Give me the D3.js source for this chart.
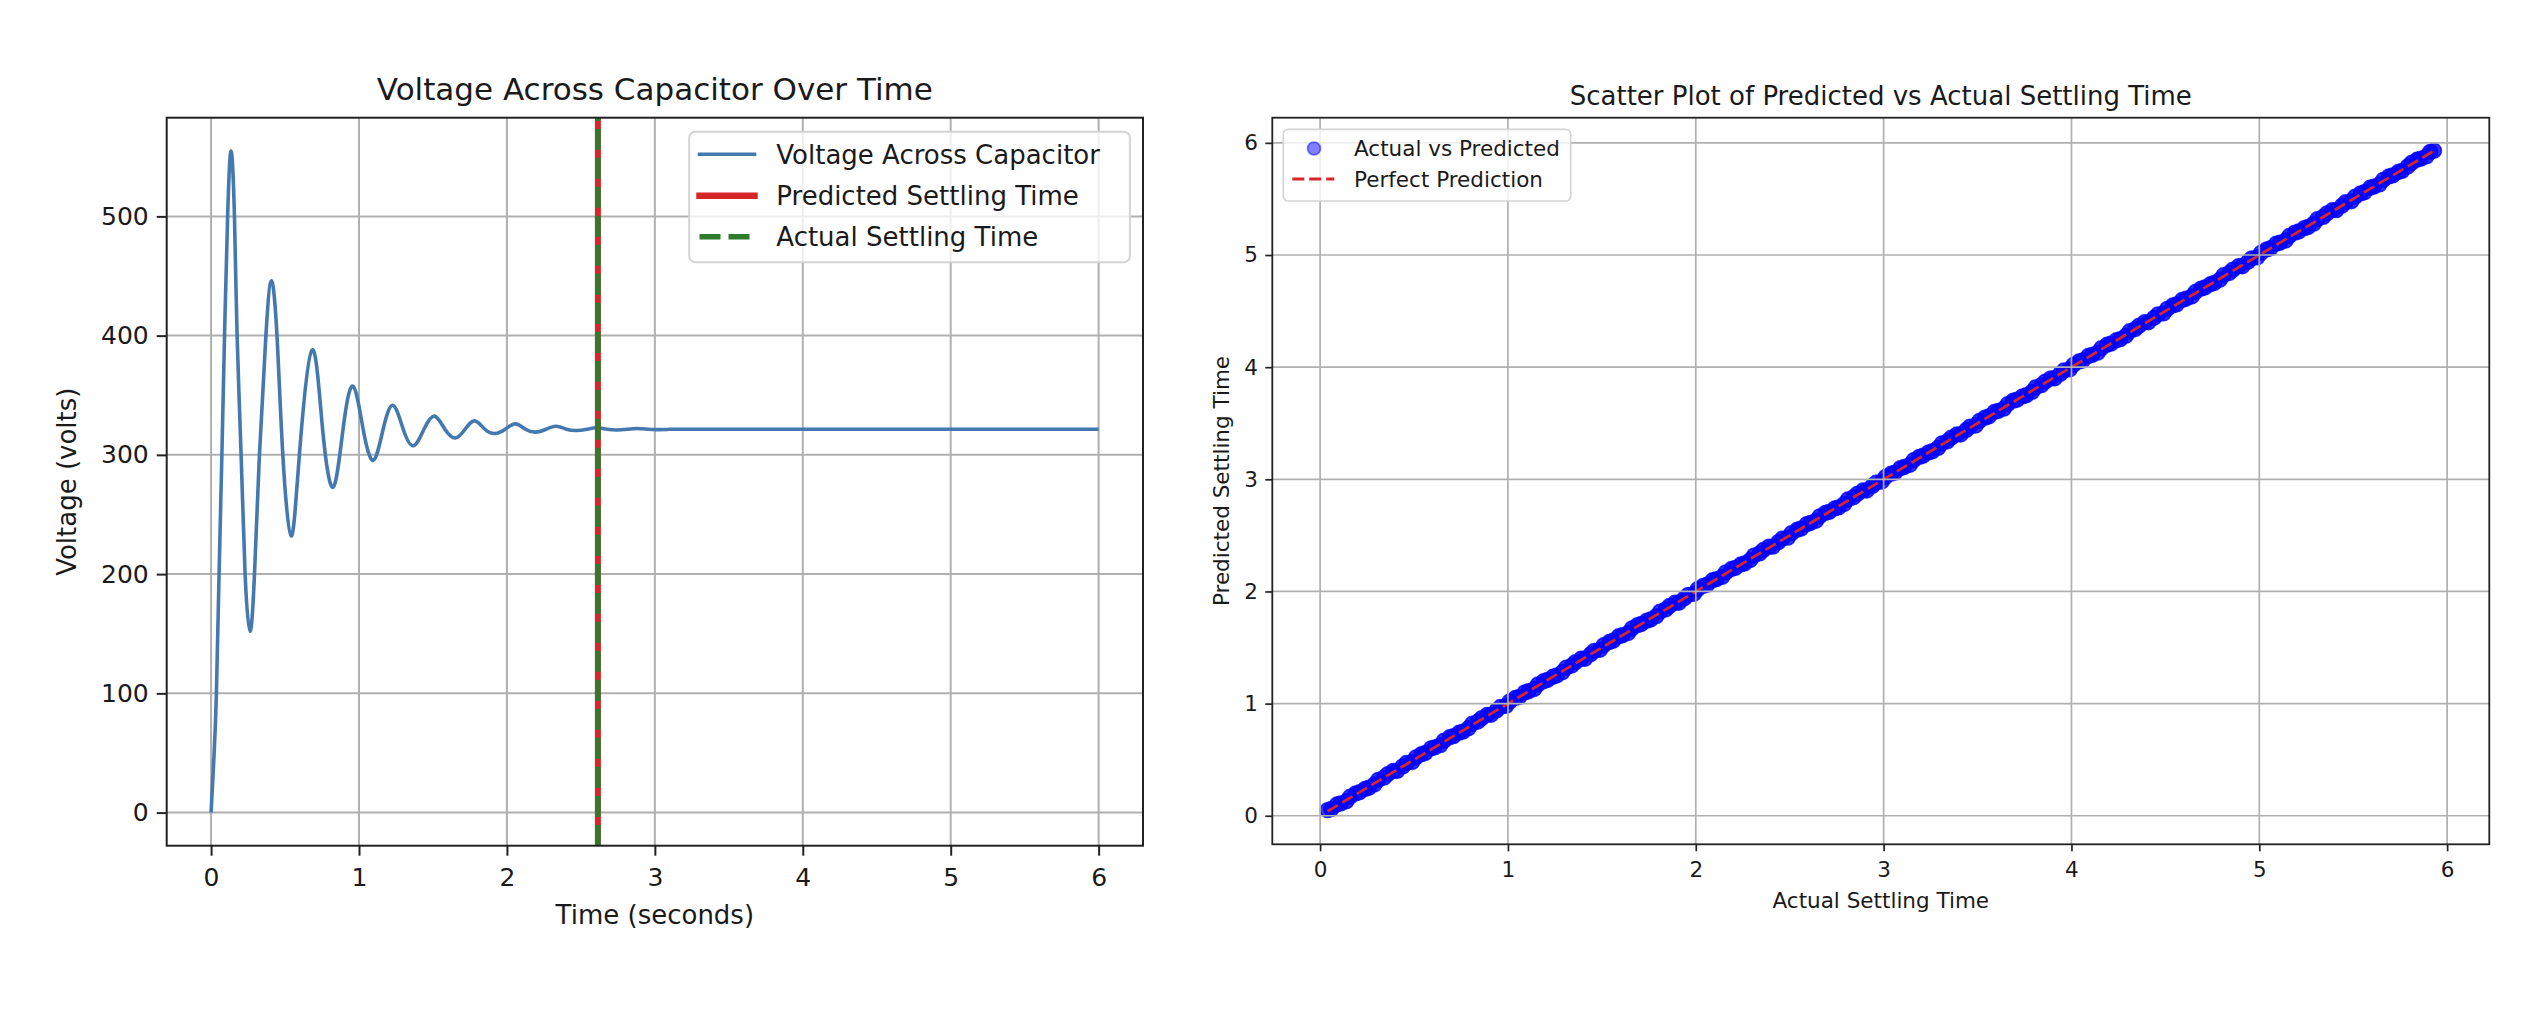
<!DOCTYPE html>
<html><head><meta charset="utf-8">
<script src="https://cdn.jsdelivr.net/npm/d3@7"></script>
<style>
body{margin:0;background:#fff}
svg{display:block}
text{font-family:"DejaVu Sans",sans-serif;fill:#1a1a1a}
</style></head>
<body><svg id="c" width="2547" height="1011"></svg>
<script>
// ---------- data: left chart ----------
const timeSec = [0,0.02,0.036,0.054,0.073,0.091,0.112,0.135,0.158,0.176,0.203,0.230,0.263,
  0.293,0.327,0.370,0.408,0.446,0.485,0.541,0.597,0.683,0.754,0.826,0.892,0.959,1.028,
  1.097,1.163,1.230,1.299,1.368,1.439,1.510,1.581,1.652,1.717,1.782,1.851,1.919,1.988,
  2.057,2.126,2.195,2.264,2.333,2.403,2.471,2.540,2.608,2.677,2.746,2.813,2.883,2.953,
  3.023,3.093,3.3,4.5,6.0];
const voltage = [0,48,100,200,300,400,500,555,500,400,300,200,152,
  199,300,399,446,399,300,232,300,388,321.5,273,321.5,357.7,321.5,
  295.5,321.5,341.5,321.5,307.7,321.5,332.5,321.5,314.2,321.5,328.5,321.5,317.9,321.5,
  326,321.5,319.1,321.5,324,321.5,320.4,321.5,322.7,321.5,320.9,321.5,322.1,321.5,
  321.2,321.5,321.5,321.5,321.5];
const predictedSettlingTime = 2.615;
const actualSettlingTime = 2.615;
const timeTicks = [0,1,2,3,4,5,6];
const voltTicks = [0,100,200,300,400,500];
const leftLegendLabels = ["Voltage Across Capacitor","Predicted Settling Time","Actual Settling Time"];

// ---------- data: right chart ----------
const actualSettling = [
0.04,0.06,0.09,0.11,0.14,0.16,0.19,0.21,0.24,0.26,
0.29,0.31,0.34,0.36,0.39,0.41,0.44,0.46,0.49,0.51,
0.54,0.56,0.59,0.61,0.64,0.66,0.69,0.71,0.74,0.76,
0.79,0.81,0.84,0.86,0.89,0.91,0.94,0.96,0.99,1.01,
1.04,1.06,1.09,1.11,1.14,1.16,1.19,1.21,1.24,1.26,
1.29,1.31,1.34,1.36,1.39,1.41,1.44,1.46,1.49,1.51,
1.54,1.56,1.59,1.61,1.64,1.66,1.69,1.71,1.74,1.76,
1.79,1.81,1.84,1.86,1.89,1.91,1.94,1.96,1.99,2.01,
2.04,2.06,2.09,2.11,2.14,2.16,2.19,2.21,2.24,2.26,
2.29,2.31,2.34,2.36,2.39,2.41,2.44,2.46,2.49,2.51,
2.54,2.56,2.59,2.61,2.64,2.66,2.69,2.71,2.74,2.76,
2.79,2.81,2.84,2.86,2.89,2.91,2.94,2.96,2.99,3.01,
3.04,3.06,3.09,3.11,3.14,3.16,3.19,3.21,3.24,3.26,
3.29,3.31,3.34,3.36,3.39,3.41,3.44,3.46,3.49,3.51,
3.54,3.56,3.59,3.61,3.64,3.66,3.69,3.71,3.74,3.76,
3.79,3.81,3.84,3.86,3.89,3.91,3.94,3.96,3.99,4.01,
4.04,4.06,4.09,4.11,4.14,4.16,4.19,4.21,4.24,4.26,
4.29,4.31,4.34,4.36,4.39,4.41,4.44,4.46,4.49,4.51,
4.54,4.56,4.59,4.61,4.64,4.66,4.69,4.71,4.74,4.76,
4.79,4.81,4.84,4.86,4.89,4.91,4.94,4.96,4.99,5.01,
5.04,5.06,5.09,5.11,5.14,5.16,5.19,5.21,5.24,5.26,
5.29,5.31,5.34,5.36,5.39,5.41,5.44,5.46,5.49,5.51,
5.54,5.56,5.59,5.61,5.64,5.66,5.69,5.71,5.74,5.76,
5.79,5.81,5.84,5.86,5.89,5.91,5.93];
const predictedSettling = [
0.05,0.06,0.10,0.11,0.13,0.17,0.20,0.21,0.24,0.25,
0.28,0.32,0.34,0.37,0.40,0.40,0.44,0.47,0.48,0.52,
0.55,0.56,0.60,0.61,0.63,0.67,0.70,0.71,0.74,0.75,
0.78,0.82,0.84,0.87,0.90,0.90,0.94,0.97,0.98,1.02,
1.05,1.06,1.10,1.11,1.13,1.17,1.20,1.21,1.24,1.25,
1.28,1.32,1.34,1.37,1.40,1.40,1.44,1.47,1.48,1.52,
1.55,1.56,1.60,1.61,1.63,1.67,1.70,1.71,1.74,1.75,
1.78,1.82,1.84,1.87,1.90,1.90,1.94,1.97,1.98,2.02,
2.05,2.06,2.10,2.11,2.13,2.17,2.20,2.21,2.24,2.25,
2.28,2.32,2.34,2.37,2.40,2.40,2.44,2.47,2.48,2.52,
2.55,2.56,2.60,2.61,2.63,2.67,2.70,2.71,2.74,2.75,
2.78,2.82,2.84,2.87,2.90,2.90,2.94,2.97,2.98,3.02,
3.05,3.06,3.10,3.11,3.13,3.17,3.20,3.21,3.24,3.25,
3.28,3.32,3.34,3.37,3.40,3.40,3.44,3.47,3.48,3.52,
3.55,3.56,3.60,3.61,3.63,3.67,3.70,3.71,3.74,3.75,
3.78,3.82,3.84,3.87,3.90,3.90,3.94,3.97,3.98,4.02,
4.05,4.06,4.10,4.11,4.13,4.17,4.20,4.21,4.24,4.25,
4.28,4.32,4.34,4.37,4.40,4.40,4.44,4.47,4.48,4.52,
4.55,4.56,4.60,4.61,4.63,4.67,4.70,4.71,4.74,4.75,
4.78,4.82,4.84,4.87,4.90,4.90,4.94,4.97,4.98,5.02,
5.05,5.06,5.10,5.11,5.13,5.17,5.20,5.21,5.24,5.25,
5.28,5.32,5.34,5.37,5.40,5.40,5.44,5.47,5.48,5.52,
5.55,5.56,5.60,5.61,5.63,5.67,5.70,5.71,5.74,5.75,
5.79,5.82,5.85,5.86,5.88,5.92,5.93];
const settleTicks = [0,1,2,3,4,5,6];
const rightLegendLabels = ["Actual vs Predicted","Perfect Prediction"];

// ---------- drawing ----------
const svg = d3.select("#c");
svg.append("rect").attr("width",2547).attr("height",1011).attr("fill","#fff");
const defs = svg.append("defs");
const pad5 = e => { const r = e[1]-e[0]; return [e[0]-0.05*r, e[1]+0.05*r]; };

const GRID = "#b0b0b0";
const CURVE = "#4479b0", RED = "#d62728", GREEN = "#2e7b2e";

function styleAxis(g, fs){
  g.select(".domain").remove();
  g.selectAll(".tick line").attr("stroke","#222").attr("stroke-width",2);
  g.selectAll(".tick text").attr("font-size",fs).attr("fill","#1a1a1a")
    .attr("font-family","DejaVu Sans, sans-serif");
}

// ===== LEFT =====
const L = {x0:166.7, x1:1143, y0:117.7, y1:845.7};
const xL = d3.scaleLinear().domain(pad5(d3.extent(timeSec))).range([L.x0,L.x1]);
const yL = d3.scaleLinear().domain(pad5(d3.extent(voltage))).range([L.y1,L.y0]);
defs.append("clipPath").attr("id","clipL").append("rect")
  .attr("x",L.x0).attr("y",L.y0).attr("width",L.x1-L.x0).attr("height",L.y1-L.y0);

const gL = svg.append("g");
gL.append("g").selectAll("line").data(timeTicks).join("line")
  .attr("x1",d=>xL(d)).attr("x2",d=>xL(d)).attr("y1",L.y0).attr("y2",L.y1)
  .attr("stroke",GRID).attr("stroke-width",2);
gL.append("g").selectAll("line").data(voltTicks).join("line")
  .attr("y1",d=>yL(d)).attr("y2",d=>yL(d)).attr("x1",L.x0).attr("x2",L.x1)
  .attr("stroke",GRID).attr("stroke-width",2);

const plotL = gL.append("g").attr("clip-path","url(#clipL)");
const lineL = d3.line().x(d=>xL(d[0])).y(d=>yL(d[1])).curve(d3.curveNatural);
plotL.append("path").attr("d",lineL(d3.zip(timeSec,voltage)))
  .attr("fill","none").attr("stroke",CURVE).attr("stroke-width",3.6).attr("stroke-linejoin","round");
plotL.append("line").attr("x1",xL(predictedSettlingTime)).attr("x2",xL(predictedSettlingTime))
  .attr("y1",L.y1).attr("y2",L.y0).attr("stroke",RED).attr("stroke-width",6);
plotL.append("line").attr("x1",xL(actualSettlingTime)).attr("x2",xL(actualSettlingTime))
  .attr("y1",L.y1).attr("y2",L.y0).attr("stroke",GREEN).attr("stroke-width",5.5)
  .attr("stroke-dasharray","21,8");

gL.append("rect").attr("x",L.x0).attr("y",L.y0).attr("width",L.x1-L.x0).attr("height",L.y1-L.y0)
  .attr("fill","none").attr("stroke","#222").attr("stroke-width",2);

const axLx = gL.append("g").attr("transform",`translate(0,${L.y1})`)
  .call(d3.axisBottom(xL).tickValues(timeTicks).tickFormat(d3.format("d")).tickSize(10).tickPadding(12.5));
styleAxis(axLx,25);
const axLy = gL.append("g").attr("transform",`translate(${L.x0},0)`)
  .call(d3.axisLeft(yL).tickValues(voltTicks).tickFormat(d3.format("d")).tickSize(10).tickPadding(8));
styleAxis(axLy,25);

gL.append("text").attr("x",(L.x0+L.x1)/2).attr("y",99.5).attr("text-anchor","middle")
  .attr("font-size",31).text("Voltage Across Capacitor Over Time");
gL.append("text").attr("x",(L.x0+L.x1)/2).attr("y",924).attr("text-anchor","middle")
  .attr("font-size",26).text("Time (seconds)");
gL.append("text").attr("transform",`translate(76,${(L.y0+L.y1)/2}) rotate(-90)`)
  .attr("text-anchor","middle").attr("font-size",26).text("Voltage (volts)");

// legend left
const lgL = gL.append("g");
lgL.append("rect").attr("x",689.2).attr("y",131.7).attr("width",440.7).attr("height",130.6)
  .attr("rx",6).attr("fill","#fff").attr("fill-opacity",0.8).attr("stroke","#d4d4d4").attr("stroke-width",2);
const rowsL = [154.3,195.7,236.7];
const handleStyles = [
  {c:CURVE,w:3.6,dash:null},
  {c:RED,w:6.5,dash:null},
  {c:GREEN,w:5.5,dash:"21,8"}];
leftLegendLabels.forEach((lab,i)=>{
  const h = handleStyles[i];
  const ln = lgL.append("line").attr("x1",699.5).attr("x2",754.5).attr("y1",rowsL[i]).attr("y2",rowsL[i])
    .attr("stroke",h.c).attr("stroke-width",h.w);
  if(h.dash) ln.attr("stroke-dasharray",h.dash); else ln.attr("stroke-linecap","square");
  lgL.append("text").attr("x",776.3).attr("y",rowsL[i]).attr("dy","0.36em")
    .attr("font-size",26).text(lab);
});

// ===== RIGHT =====
const R = {x0:1272.3, x1:2489.3, y0:117.7, y1:844.3};
const allExt = d3.extent(actualSettling.concat(predictedSettling));
const xR = d3.scaleLinear().domain(pad5(d3.extent(actualSettling))).range([R.x0,R.x1]);
const yR = d3.scaleLinear().domain(pad5(allExt)).range([R.y1,R.y0]);
defs.append("clipPath").attr("id","clipR").append("rect")
  .attr("x",R.x0).attr("y",R.y0).attr("width",R.x1-R.x0).attr("height",R.y1-R.y0);

const gR = svg.append("g");
const plotR = gR.append("g").attr("clip-path","url(#clipR)");
plotR.append("g").selectAll("circle").data(d3.zip(actualSettling,predictedSettling)).join("circle")
  .attr("cx",d=>xR(d[0])).attr("cy",d=>yR(d[1])).attr("r",7.4)
  .attr("fill","#0000ff").attr("fill-opacity",0.8)
  .attr("stroke","#0000ff").attr("stroke-opacity",0.8).attr("stroke-width",1.6);
gR.append("g").selectAll("line").data(settleTicks).join("line")
  .attr("x1",d=>xR(d)).attr("x2",d=>xR(d)).attr("y1",R.y0).attr("y2",R.y1)
  .attr("stroke",GRID).attr("stroke-width",1.7);
gR.append("g").selectAll("line").data(settleTicks).join("line")
  .attr("y1",d=>yR(d)).attr("y2",d=>yR(d)).attr("x1",R.x0).attr("x2",R.x1)
  .attr("stroke",GRID).attr("stroke-width",1.7);
const ext = d3.extent(actualSettling);
plotR.append("path").attr("d",d3.line().x(d=>xR(d)).y(d=>yR(d))(ext))
  .attr("fill","none").attr("stroke",RED).attr("stroke-width",2.8).attr("stroke-dasharray","12,5");

gR.append("rect").attr("x",R.x0).attr("y",R.y0).attr("width",R.x1-R.x0).attr("height",R.y1-R.y0)
  .attr("fill","none").attr("stroke","#222").attr("stroke-width",1.8);

const axRx = gR.append("g").attr("transform",`translate(0,${R.y1})`)
  .call(d3.axisBottom(xR).tickValues(settleTicks).tickFormat(d3.format("d")).tickSize(7).tickPadding(10.4));
styleAxis(axRx,21.5);
axRx.selectAll(".tick line").attr("stroke-width",1.7);
const axRy = gR.append("g").attr("transform",`translate(${R.x0},0)`)
  .call(d3.axisLeft(yR).tickValues(settleTicks).tickFormat(d3.format("d")).tickSize(7).tickPadding(7.3));
styleAxis(axRy,21.5);
axRy.selectAll(".tick line").attr("stroke-width",1.7);

gR.append("text").attr("x",(R.x0+R.x1)/2).attr("y",105).attr("text-anchor","middle")
  .attr("font-size",26).text("Scatter Plot of Predicted vs Actual Settling Time");
gR.append("text").attr("x",(R.x0+R.x1)/2).attr("y",908).attr("text-anchor","middle")
  .attr("font-size",21.5).text("Actual Settling Time");
gR.append("text").attr("transform",`translate(1229,${(R.y0+R.y1)/2}) rotate(-90)`)
  .attr("text-anchor","middle").attr("font-size",21.5).text("Predicted Settling Time");

// legend right
const lgR = gR.append("g");
lgR.append("rect").attr("x",1283.3).attr("y",129.3).attr("width",287.4).attr("height",71.7)
  .attr("rx",5).attr("fill","#fff").attr("fill-opacity",0.8).attr("stroke","#d4d4d4").attr("stroke-width",1.7);
const rowsR = [148.5,179];
lgR.append("circle").attr("cx",1314).attr("cy",rowsR[0]).attr("r",6.5)
  .attr("fill","#0000ff").attr("fill-opacity",0.5).attr("stroke","#0000ff").attr("stroke-opacity",0.5).attr("stroke-width",1.6);
lgR.append("line").attr("x1",1292.3).attr("x2",1334.3).attr("y1",rowsR[1]).attr("y2",rowsR[1])
  .attr("stroke",RED).attr("stroke-width",3.2).attr("stroke-dasharray","12,5");
rightLegendLabels.forEach((lab,i)=>{
  lgR.append("text").attr("x",1354).attr("y",rowsR[i]).attr("dy","0.36em")
    .attr("font-size",21.5).text(lab);
});
</script></body></html>
